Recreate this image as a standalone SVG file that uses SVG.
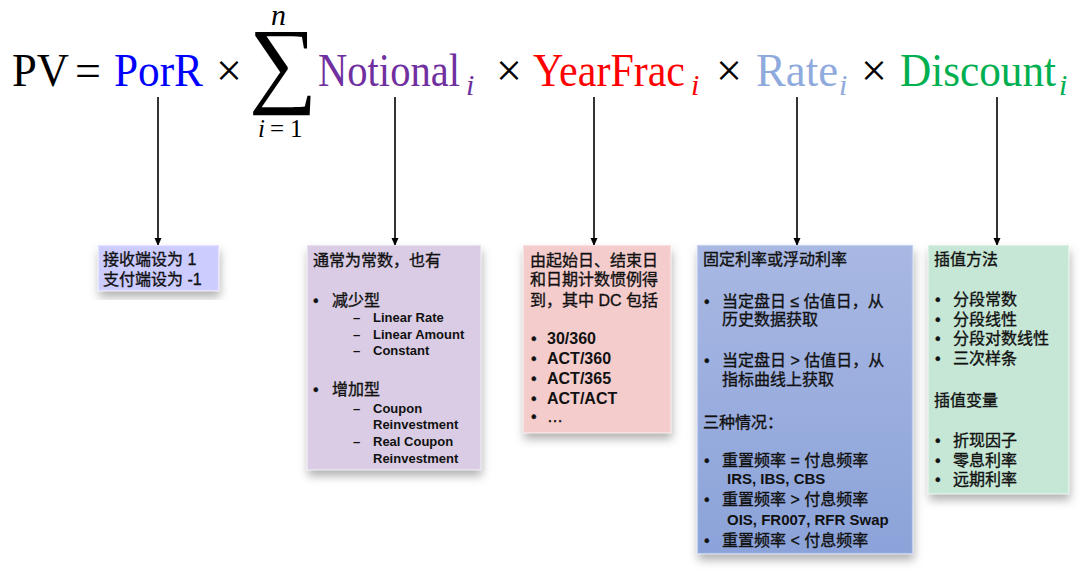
<svg xmlns="http://www.w3.org/2000/svg" width="1080" height="577" viewBox="0 0 1080 577">
<defs>
<style>
.f{font-family:"Liberation Serif","DejaVu Serif",serif;font-size:46px}
.sub{font-family:"Liberation Serif","DejaVu Serif",serif;font-size:30px;font-style:italic}
.t{font-family:"Liberation Sans","Noto Sans CJK SC",sans-serif;font-size:16px;fill:#111;stroke:#111;stroke-width:0.35}
.s{font-family:"Liberation Sans","Noto Sans CJK SC",sans-serif;font-size:13px;font-weight:bold;fill:#111}
.b{font-weight:bold;stroke-width:0}
.l{font-size:15px}
.box{stroke-width:1.2}
.con{stroke:#000;stroke-width:1.6;fill:none}
</style>
<marker id="ah" viewBox="0 0 8 8" refX="7" refY="4" markerWidth="8" markerHeight="8" markerUnits="userSpaceOnUse" orient="auto">
<path d="M0,0.5 L8,4 L0,7.5 z" fill="#000"/>
</marker>
<filter id="sh" x="-20%" y="-20%" width="140%" height="140%">
<feDropShadow dx="1" dy="6" stdDeviation="5" flood-color="#000" flood-opacity="0.3"/>
</filter>
<linearGradient id="gr" x1="0" y1="0" x2="0" y2="1">
<stop offset="0" stop-color="#a9b8e3"/>
<stop offset="1" stop-color="#8ba3d9"/>
</linearGradient>
</defs>
<rect width="1080" height="577" fill="#fff"/>

<g id="formula">
<text class="f" x="12" y="86" textLength="57" lengthAdjust="spacingAndGlyphs">PV</text>
<text class="f" x="75" y="86">=</text>
<text class="f" x="114" y="86" fill="#0000ff" textLength="89" lengthAdjust="spacingAndGlyphs">PorR</text>
<text class="f" x="216" y="86">×</text>
<text x="249" y="95" font-family="Liberation Serif,DejaVu Serif,serif" font-size="96">∑</text>
<text class="sub" x="271" y="25" font-size="28">n</text>
<text x="258" y="137" font-family="Liberation Serif,DejaVu Serif,serif" font-size="25"><tspan font-style="italic">i</tspan><tspan x="270">=</tspan><tspan x="290">1</tspan></text>
<text class="f" x="318" y="86" fill="#7030a0" textLength="142" lengthAdjust="spacingAndGlyphs">Notional</text>
<text class="sub" x="466" y="95" fill="#7030a0">i</text>
<text class="f" x="496" y="86">×</text>
<text class="f" x="533" y="86" fill="#ff0000" textLength="152" lengthAdjust="spacingAndGlyphs">YearFrac</text>
<text class="sub" x="691" y="95" fill="#ff0000">i</text>
<text class="f" x="716" y="86">×</text>
<text class="f" x="756" y="86" fill="#8faadc" textLength="82" lengthAdjust="spacingAndGlyphs">Rate</text>
<text class="sub" x="839" y="95" fill="#8faadc">i</text>
<text class="f" x="861" y="86">×</text>
<text class="f" x="900" y="86" fill="#00b050" textLength="156" lengthAdjust="spacingAndGlyphs">Discount</text>
<text class="sub" x="1059" y="95" fill="#00b050">i</text>
</g>

<g id="connectors">
<line class="con" x1="158" y1="97" x2="158" y2="245" marker-end="url(#ah)"/>
<line class="con" x1="395" y1="97" x2="395" y2="245" marker-end="url(#ah)"/>
<line class="con" x1="594" y1="97" x2="594" y2="245" marker-end="url(#ah)"/>
<line class="con" x1="797" y1="97" x2="797" y2="245" marker-end="url(#ah)"/>
<line class="con" x1="997" y1="97" x2="997" y2="245" marker-end="url(#ah)"/>
</g>

<g id="porr">
<rect class="box" x="98.5" y="245.5" width="120" height="45" fill="#ccccff" stroke="#e4e4ff" filter="url(#sh)"/>
<text class="t" x="103" y="265">接收端设为 1</text>
<text class="t" x="103" y="285">支付端设为 -1</text>
</g>

<g id="notional">
<rect class="box" x="307.5" y="245.5" width="173" height="224" fill="#d9cce4" stroke="#e8e0ee" filter="url(#sh)"/>
<text class="t" x="313" y="266">通常为常数，也有</text>
<text class="t" x="313" y="306">•</text>
<text class="t" x="332" y="306">减少型</text>
<text class="s" x="353" y="322">–</text><text class="s" x="373" y="322">Linear Rate</text>
<text class="s" x="353" y="339">–</text><text class="s" x="373" y="339">Linear Amount</text>
<text class="s" x="353" y="355">–</text><text class="s" x="373" y="355">Constant</text>
<text class="t" x="313" y="395">•</text>
<text class="t" x="332" y="395">增加型</text>
<text class="s" x="353" y="413">–</text><text class="s" x="373" y="413">Coupon</text>
<text class="s" x="373" y="429">Reinvestment</text>
<text class="s" x="353" y="446">–</text><text class="s" x="373" y="446">Real Coupon</text>
<text class="s" x="373" y="463">Reinvestment</text>
</g>

<g id="yearfrac">
<rect class="box" x="523.5" y="245.5" width="147" height="187" fill="#f4cccc" stroke="#f8e0e0" filter="url(#sh)"/>
<text class="t" x="530" y="266">由起始日、结束日</text>
<text class="t" x="530" y="285">和日期计数惯例得</text>
<text class="t" x="530" y="306">到，其中 DC 包括</text>
<text class="t" x="531" y="344">•</text><text class="t b" x="547" y="344">30/360</text>
<text class="t" x="531" y="364">•</text><text class="t b" x="547" y="364">ACT/360</text>
<text class="t" x="531" y="384">•</text><text class="t b" x="547" y="384">ACT/365</text>
<text class="t" x="531" y="404">•</text><text class="t b" x="547" y="404">ACT/ACT</text>
<text class="t" x="531" y="422">•</text><text class="t" x="547" y="422">…</text>
</g>

<g id="rate">
<rect class="box" x="697.5" y="245.5" width="215" height="308" fill="url(#gr)" stroke="#c3cff0" filter="url(#sh)"/>
<text class="t" x="703" y="265">固定利率或浮动利率</text>
<text class="t" x="704" y="307">•</text><text class="t" x="722" y="307">当定盘日 ≤ 估值日，从</text>
<text class="t" x="722" y="325">历史数据获取</text>
<text class="t" x="704" y="366">•</text><text class="t" x="722" y="366">当定盘日 &gt; 估值日，从</text>
<text class="t" x="722" y="385">指标曲线上获取</text>
<text class="t" x="703" y="428">三种情况：</text>
<text class="t" x="704" y="466">•</text><text class="t" x="722" y="466">重置频率 = 付息频率</text>
<text class="t b l" x="727" y="484">IRS, IBS, CBS</text>
<text class="t" x="704" y="505">•</text><text class="t" x="722" y="505">重置频率 &gt; 付息频率</text>
<text class="t b l" x="727" y="525">OIS, FR007, RFR Swap</text>
<text class="t" x="704" y="546">•</text><text class="t" x="722" y="546">重置频率 &lt; 付息频率</text>
</g>

<g id="discount">
<rect class="box" x="928.5" y="245.5" width="140" height="248" fill="#c6e7d5" stroke="#dcf0e5" filter="url(#sh)"/>
<text class="t" x="934" y="265">插值方法</text>
<text class="t" x="935" y="305">•</text><text class="t" x="953" y="305">分段常数</text>
<text class="t" x="935" y="325">•</text><text class="t" x="953" y="325">分段线性</text>
<text class="t" x="935" y="344">•</text><text class="t" x="953" y="344">分段对数线性</text>
<text class="t" x="935" y="364">•</text><text class="t" x="953" y="364">三次样条</text>
<text class="t" x="934" y="406">插值变量</text>
<text class="t" x="935" y="446">•</text><text class="t" x="953" y="446">折现因子</text>
<text class="t" x="935" y="466">•</text><text class="t" x="953" y="466">零息利率</text>
<text class="t" x="935" y="485">•</text><text class="t" x="953" y="485">远期利率</text>
</g>
</svg>
